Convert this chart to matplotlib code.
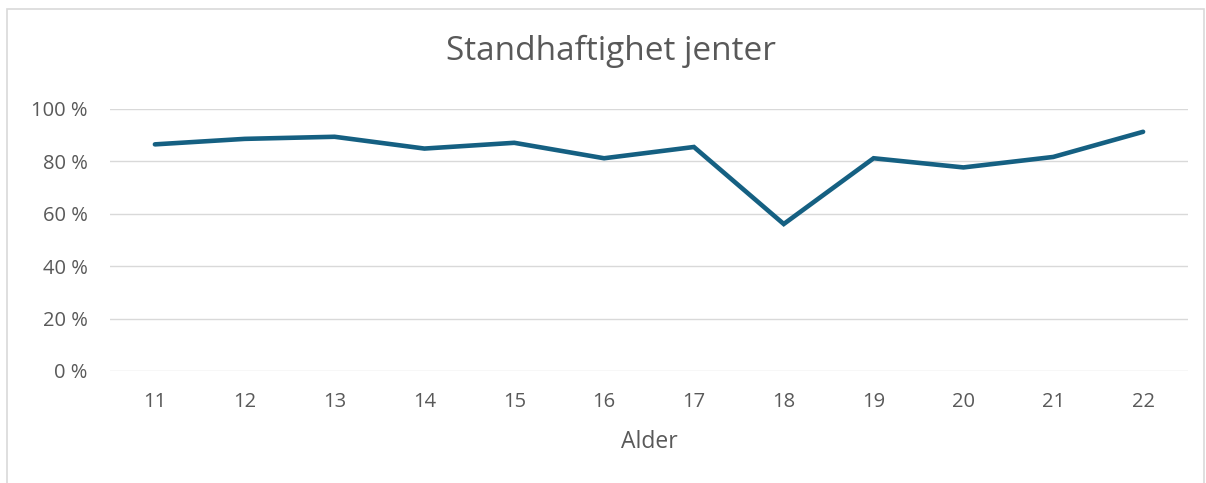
import matplotlib
matplotlib.use("Agg")
import matplotlib.pyplot as plt
from matplotlib.ticker import FuncFormatter
from matplotlib.patches import Rectangle

ages = [11, 12, 13, 14, 15, 16, 17, 18, 19, 20, 21, 22]
values = [86.5, 88.6, 89.4, 84.9, 87.1, 81.2, 85.5, 56.1, 81.2, 77.7, 81.7, 91.3]
y_ticks = [0, 20, 40, 60, 80, 100]

plt.rcParams['font.family'] = ["Open Sans", "DejaVu Sans"]
text_color = "#595959"

fig = plt.figure(figsize=(12.06, 4.83), dpi=100)
ax = fig.add_axes([110 / 1206, 1 - 371 / 483, (1188 - 110) / 1206, (371 - 109) / 483])

x = list(range(len(ages)))
ax.plot(x, values, color="#156082", linewidth=3.3, solid_capstyle="round", solid_joinstyle="miter", zorder=3)

ax.set_xlim(-0.5, len(ages) - 0.5)
ax.set_ylim(0, 100)
ax.set_xticks(x)
ax.set_xticklabels([str(a) for a in ages])
ax.set_yticks(y_ticks)
ax.yaxis.set_major_formatter(FuncFormatter(lambda v, p: f"{int(v)} %"))
ax.tick_params(axis="both", length=0, labelsize=14.5, colors=text_color)
ax.tick_params(axis="x", pad=15)
ax.tick_params(axis="y", pad=16)
ax.grid(axis="y", color="#d9d9d9", linewidth=1.0, zorder=0)
for s in ax.spines.values():
    s.set_visible(False)

ax.set_xlabel("Alder", fontsize=16.5, color=text_color, labelpad=13)
fig.text(611 / 1206, 1 - 60 / 483, "Standhaftighet jenter", fontsize=24,
         color=text_color, ha="center", va="baseline")

# chart border
fig.patches.append(Rectangle((7 / 1206, -0.05), (1204 - 7) / 1206, 1.05 - 9 / 483,
                             transform=fig.transFigure, fill=False,
                             edgecolor="#d9d9d9", linewidth=1.2))

fig.savefig("out.png", dpi=100)
